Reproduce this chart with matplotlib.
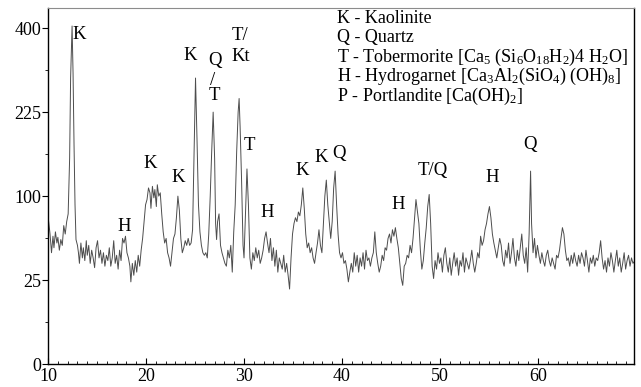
import matplotlib
matplotlib.use('Agg')
import matplotlib.pyplot as plt
import numpy as np

plt.rcParams['font.family'] = ['Liberation Serif', 'DejaVu Serif']
plt.rcParams['mathtext.fontset'] = 'custom'
plt.rcParams['mathtext.rm'] = 'Liberation Serif'
plt.rcParams['mathtext.default'] = 'regular'

#XRD scan, 2-theta (deg) and counts
two_theta = [
    10.0, 10.2, 10.35, 10.5, 10.6, 10.75, 10.9, 11.0, 11.15, 11.3, 11.45, 11.6, 11.75, 11.9,
    12.05, 12.2, 12.3, 12.45, 12.55, 12.65, 12.75, 12.85, 13.0, 13.1, 13.2, 13.35, 13.5, 13.6,
    13.75, 13.9, 14.0, 14.15, 14.3, 14.45, 14.6, 14.75, 14.9, 15.05, 15.2, 15.35, 15.5, 15.65,
    15.8, 15.95, 16.1, 16.25, 16.4, 16.55, 16.7, 16.85, 17.0, 17.15, 17.3, 17.45, 17.6, 17.75,
    17.9, 18.05, 18.2, 18.35, 18.45, 18.6, 18.75, 18.9, 19.05, 19.2, 19.35, 19.5, 19.65, 19.8,
    19.95, 20.1, 20.25, 20.4, 20.5, 20.65, 20.8, 20.9, 21.05, 21.15, 21.3, 21.45, 21.6, 21.75,
    21.9, 22.05, 22.2, 22.35, 22.5, 22.65, 22.8, 22.95, 23.1, 23.25, 23.4, 23.55, 23.7, 23.85,
    24.0, 24.15, 24.3, 24.45, 24.6, 24.75, 24.9, 25.05, 25.2, 25.35, 25.5, 25.65, 25.8, 25.95,
    26.1, 26.25, 26.4, 26.55, 26.7, 26.85, 27.0, 27.1, 27.2, 27.3, 27.45, 27.6, 27.75, 27.9,
    28.05, 28.2, 28.35, 28.5, 28.65, 28.8, 28.95, 29.1, 29.25, 29.4, 29.5, 29.6, 29.75, 29.9,
    30.0, 30.15, 30.3, 30.45, 30.6, 30.75, 30.9, 31.05, 31.2, 31.35, 31.5, 31.65, 31.8, 31.95,
    32.1, 32.25, 32.4, 32.55, 32.7, 32.85, 33.0, 33.15, 33.3, 33.45, 33.6, 33.75, 33.9, 34.05,
    34.2, 34.35, 34.5, 34.65, 34.8, 34.95, 35.1, 35.25, 35.4, 35.55, 35.7, 35.85, 36.0, 36.15,
    36.3, 36.45, 36.6, 36.75, 36.9, 37.05, 37.2, 37.35, 37.5, 37.65, 37.8, 37.95, 38.1, 38.25,
    38.4, 38.55, 38.7, 38.85, 39.0, 39.15, 39.3, 39.45, 39.6, 39.75, 39.9, 40.05, 40.2, 40.35,
    40.5, 40.65, 40.8, 40.95, 41.1, 41.25, 41.4, 41.55, 41.7, 41.85, 42.0, 42.15, 42.3, 42.45,
    42.6, 42.75, 42.9, 43.05, 43.2, 43.35, 43.5, 43.65, 43.8, 43.95, 44.1, 44.25, 44.4, 44.55,
    44.7, 44.85, 45.0, 45.15, 45.3, 45.45, 45.6, 45.75, 45.9, 46.05, 46.2, 46.35, 46.5, 46.65,
    46.8, 46.95, 47.1, 47.25, 47.4, 47.55, 47.7, 47.85, 48.0, 48.15, 48.3, 48.45, 48.6, 48.75,
    48.9, 49.05, 49.2, 49.35, 49.5, 49.65, 49.8, 49.95, 50.1, 50.25, 50.4, 50.55, 50.7, 50.85,
    51.0, 51.15, 51.3, 51.45, 51.6, 51.75, 51.9, 52.05, 52.2, 52.35, 52.5, 52.65, 52.8, 52.95,
    53.1, 53.25, 53.4, 53.55, 53.7, 53.85, 54.0, 54.15, 54.3, 54.45, 54.6, 54.75, 54.9, 55.05,
    55.2, 55.35, 55.5, 55.65, 55.8, 55.95, 56.1, 56.25, 56.4, 56.55, 56.7, 56.85, 57.0, 57.15,
    57.3, 57.45, 57.6, 57.75, 57.9, 58.05, 58.2, 58.35, 58.5, 58.65, 58.8, 58.95, 59.1, 59.25,
    59.35, 59.5, 59.65, 59.8, 59.95, 60.1, 60.25, 60.4, 60.55, 60.7, 60.85, 61.0, 61.15, 61.3,
    61.45, 61.6, 61.75, 61.9, 62.05, 62.2, 62.35, 62.5, 62.65, 62.8, 62.95, 63.1, 63.25, 63.4,
    63.55, 63.7, 63.85, 64.0, 64.15, 64.3, 64.45, 64.6, 64.75, 64.9, 65.05, 65.2, 65.35, 65.5,
    65.65, 65.8, 65.95, 66.1, 66.25, 66.4, 66.55, 66.7, 66.85, 67.0, 67.15, 67.3, 67.45, 67.6,
    67.75, 67.9, 68.05, 68.2, 68.35, 68.5, 68.65, 68.8, 68.95, 69.1, 69.25, 69.4, 69.55, 69.7,
    69.9]
counts = [
    77, 60, 44, 58, 48, 62, 52, 57, 46, 55, 50, 68, 60, 72,
    80, 150, 290, 405, 300, 170, 90, 55, 50, 44, 36, 52, 40, 48,
    38, 54, 42, 50, 36, 46, 40, 33, 48, 54, 40, 46, 36, 44,
    34, 42, 38, 48, 34, 40, 54, 36, 42, 32, 46, 38, 56, 52,
    58, 44, 40, 34, 24, 36, 28, 38, 30, 42, 34, 46, 56, 72,
    90, 96, 110, 104, 86, 112, 98, 108, 88, 114, 100, 104, 80, 62,
    52, 56, 44, 40, 34, 44, 56, 60, 76, 100, 84, 56, 44, 48,
    54, 50, 56, 50, 52, 64, 160, 290, 180, 90, 62, 50, 44, 42,
    44, 40, 60, 100, 160, 225, 150, 70, 55, 72, 80, 50, 44, 40,
    36, 34, 46, 40, 50, 30, 62, 90, 160, 225, 250, 200, 120, 50,
    40, 80, 135, 90, 40, 32, 44, 38, 48, 40, 46, 36, 40, 46,
    56, 62, 52, 44, 56, 38, 48, 34, 46, 30, 40, 36, 32, 42,
    30, 36, 28, 20, 40, 60, 70, 76, 72, 82, 78, 90, 110, 86,
    60, 48, 52, 44, 48, 40, 36, 44, 52, 64, 50, 44, 70, 100,
    120, 90, 72, 56, 72, 110, 132, 90, 60, 44, 40, 44, 36, 38,
    32, 24, 30, 36, 30, 44, 34, 42, 30, 40, 34, 44, 32, 46,
    38, 40, 34, 40, 44, 62, 44, 36, 30, 34, 42, 38, 48, 46,
    56, 60, 52, 64, 58, 66, 56, 48, 36, 26, 22, 34, 36, 42,
    40, 50, 44, 56, 74, 96, 82, 70, 46, 32, 38, 52, 66, 88,
    102, 70, 34, 26, 38, 32, 44, 36, 40, 30, 42, 48, 36, 30,
    40, 28, 36, 44, 34, 40, 28, 38, 34, 44, 30, 40, 36, 32,
    38, 46, 36, 30, 36, 44, 40, 58, 50, 54, 64, 70, 80, 88,
    76, 60, 52, 46, 40, 48, 56, 50, 38, 34, 46, 40, 52, 36,
    44, 56, 40, 34, 46, 38, 48, 60, 42, 36, 48, 30, 60, 132,
    70, 44, 56, 40, 50, 42, 36, 44, 38, 34, 42, 46, 38, 34,
    40, 36, 32, 42, 40, 46, 56, 66, 60, 46, 38, 40, 34, 42,
    36, 44, 38, 34, 42, 36, 44, 40, 34, 46, 38, 30, 40, 36,
    42, 34, 40, 38, 44, 54, 40, 32, 38, 30, 40, 34, 44, 38,
    30, 38, 46, 34, 40, 30, 36, 44, 32, 38, 42, 34, 40, 36,
    38]

#peak labels: text, 2-theta, counts
peak_labels = ['K', 'H', 'K', 'K', 'K', 'Q', '/', 'T', 'T/', 'Kt', 'T', 'H',
               'K', 'K', 'Q', 'H', 'T/Q', 'H', 'Q']
peak_x = [13.2, 17.8, 20.4, 23.3, 24.5, 27.0, 26.8, 27.0, 29.6, 29.7, 30.5, 32.4,
          35.9, 37.9, 39.7, 45.7, 49.3, 55.3, 59.2]
peak_y = [385, 67, 142, 123, 338, 327, 285, 255, 383, 335, 170, 81,
          133, 152, 157, 90, 133, 123, 171]

legend_lines = ['K - Kaolinite',
                'Q - Quartz',
                'T - Tobermorite [Ca$_5$ (Si$_6$O$_{18}$H$_2$)4 H$_2$O]',
                'H - Hydrogarnet [Ca$_3$Al$_2$(SiO$_4$) (OH)$_8$]',
                'P - Portlandite [Ca(OH)$_2$]']

fig = plt.figure(figsize=(6.41, 3.87), dpi=100)
ax = fig.add_axes([0.075, 0.059, 0.914, 0.92])

#square-root intensity axis
ax.set_yscale('function', functions=(lambda y: np.sqrt(np.clip(y, 0, None)), np.square))
ax.plot(two_theta, counts, color='0.3', linewidth=0.7)

ax.set_xlim(10, 69.8)
ax.set_ylim(0, 449)
ax.set_yticks([0, 25, 100, 225, 400])
ax.set_yticks([6.25, 56.25, 156.25, 306.25], minor=True)
ax.set_xticks([10, 20, 30, 40, 50, 60])
ax.set_xticks(np.arange(11, 70, 1), minor=True)
ax.tick_params(axis='both', labelsize=13)
ax.tick_params(axis='x', which='major', direction='in', length=4, pad=3)
ax.tick_params(axis='x', which='minor', direction='in', length=2)
ax.tick_params(axis='y', which='major', direction='out', length=4, pad=1)
ax.tick_params(axis='y', which='minor', direction='out', length=2)
ax.spines['top'].set_color('0.55')
for s in ['left', 'right', 'bottom']:
    ax.spines[s].set_linewidth(1.0)

for lab, x, y in zip(peak_labels, peak_x, peak_y):
    ax.text(x, y, lab, fontsize=13.5, ha='center', va='center')

for i, line in enumerate(legend_lines):
    ax.text(0.493, 0.972 - i*0.055, line, transform=ax.transAxes,
            fontsize=13, ha='left', va='center')

fig.savefig('out.png', dpi=100)
